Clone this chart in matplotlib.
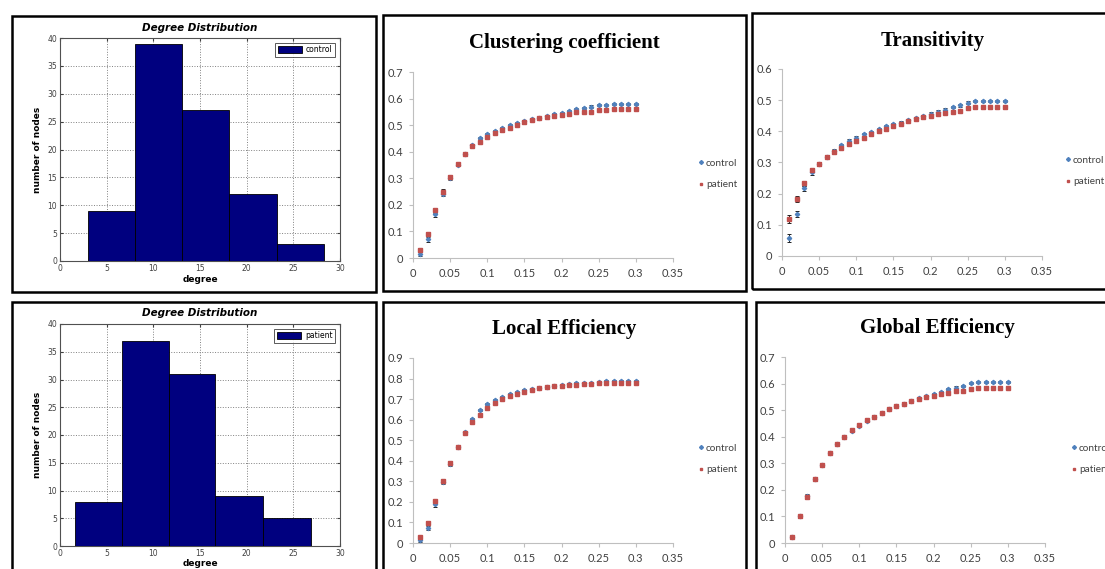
import matplotlib
matplotlib.use("Agg")
import matplotlib.pyplot as plt
import numpy as np
from matplotlib.lines import Line2D
from matplotlib.patches import Rectangle

W, H = 1105, 569

# ---- degree distribution histograms ----
ctrl_edges = [3.0, 8.05, 13.1, 18.1, 23.2, 28.25]
ctrl_counts = [9, 39, 27, 12, 3]
pat_edges = [1.6, 6.65, 11.65, 16.65, 21.7, 26.85]
pat_counts = [8, 37, 31, 9, 5]

# ---- network metrics vs. density threshold ----
threshold = [0.01, 0.02, 0.03, 0.04, 0.05, 0.06, 0.07, 0.08, 0.09, 0.10,
             0.11, 0.12, 0.13, 0.14, 0.15, 0.16, 0.17, 0.18, 0.19, 0.20,
             0.21, 0.22, 0.23, 0.24, 0.25, 0.26, 0.27, 0.28, 0.29, 0.30]

clust_ctrl = [0.015, 0.07, 0.165, 0.24, 0.30, 0.35, 0.39, 0.425, 0.45, 0.465,
              0.477, 0.49, 0.50, 0.508, 0.515, 0.522, 0.528, 0.535, 0.542, 0.547,
              0.553, 0.56, 0.565, 0.57, 0.575, 0.577, 0.578, 0.578, 0.578, 0.578]
clust_pat = [0.03, 0.09, 0.18, 0.25, 0.305, 0.352, 0.39, 0.42, 0.435, 0.455,
             0.47, 0.48, 0.49, 0.502, 0.51, 0.518, 0.526, 0.532, 0.536, 0.538,
             0.542, 0.548, 0.55, 0.55, 0.558, 0.558, 0.56, 0.56, 0.56, 0.56]
clust_err = [0.006, 0.008, 0.01, 0.008, 0.006, 0.005, 0.004, 0.004, 0.004, 0.004,
             0.004, 0.004, 0.004, 0.004, 0.004, 0.004, 0.004, 0.004, 0.004, 0.004,
             0.004, 0.004, 0.004, 0.004, 0.004, 0.004, 0.004, 0.004, 0.004, 0.004]

trans_ctrl = [0.057, 0.135, 0.218, 0.268, 0.295, 0.318, 0.338, 0.355, 0.37, 0.38,
              0.39, 0.398, 0.407, 0.416, 0.422, 0.428, 0.435, 0.442, 0.448, 0.457,
              0.463, 0.47, 0.478, 0.483, 0.492, 0.497, 0.497, 0.497, 0.497, 0.497]
trans_pat = [0.12, 0.182, 0.233, 0.276, 0.295, 0.318, 0.333, 0.347, 0.358, 0.37,
             0.38, 0.39, 0.40, 0.408, 0.418, 0.425, 0.433, 0.44, 0.447, 0.45,
             0.455, 0.46, 0.463, 0.465, 0.475, 0.477, 0.477, 0.477, 0.477, 0.477]
trans_err = [0.013, 0.01, 0.008, 0.007, 0.006, 0.005, 0.005, 0.004, 0.004, 0.004,
             0.004, 0.004, 0.004, 0.004, 0.004, 0.004, 0.004, 0.004, 0.004, 0.004,
             0.004, 0.004, 0.004, 0.004, 0.004, 0.004, 0.004, 0.004, 0.004, 0.004]

leff_ctrl = [0.015, 0.075, 0.188, 0.295, 0.385, 0.468, 0.54, 0.603, 0.645, 0.675,
             0.695, 0.712, 0.725, 0.735, 0.743, 0.749, 0.755, 0.76, 0.765, 0.77,
             0.773, 0.776, 0.778, 0.78, 0.783, 0.786, 0.786, 0.786, 0.786, 0.786]
leff_pat = [0.028, 0.098, 0.203, 0.302, 0.39, 0.468, 0.535, 0.588, 0.622, 0.658,
            0.683, 0.702, 0.715, 0.727, 0.737, 0.745, 0.752, 0.757, 0.762, 0.765,
            0.767, 0.77, 0.772, 0.773, 0.777, 0.778, 0.778, 0.778, 0.778, 0.778]
leff_err = [0.008, 0.01, 0.012, 0.01, 0.008, 0.006, 0.006, 0.005, 0.005, 0.005,
            0.005, 0.005, 0.005, 0.005, 0.005, 0.005, 0.005, 0.005, 0.005, 0.005,
            0.005, 0.005, 0.005, 0.005, 0.005, 0.005, 0.005, 0.005, 0.005, 0.005]

geff_ctrl = [0.022, 0.10, 0.178, 0.24, 0.293, 0.338, 0.372, 0.398, 0.42, 0.44,
             0.46, 0.475, 0.49, 0.503, 0.515, 0.525, 0.535, 0.545, 0.553, 0.56,
             0.568, 0.578, 0.585, 0.59, 0.602, 0.605, 0.605, 0.605, 0.605, 0.605]
geff_pat = [0.022, 0.10, 0.172, 0.242, 0.293, 0.34, 0.373, 0.40, 0.425, 0.445,
            0.462, 0.476, 0.49, 0.503, 0.515, 0.525, 0.535, 0.543, 0.55, 0.555,
            0.56, 0.566, 0.572, 0.573, 0.58, 0.585, 0.585, 0.585, 0.585, 0.585]
geff_err = [0.004, 0.005, 0.006, 0.005, 0.005, 0.004, 0.004, 0.004, 0.004, 0.004,
            0.004, 0.004, 0.004, 0.004, 0.004, 0.004, 0.004, 0.004, 0.004, 0.004,
            0.004, 0.004, 0.004, 0.004, 0.004, 0.004, 0.004, 0.004, 0.004, 0.004]

BLUE = "#4F81BD"
RED = "#C0504D"
NAVY = "#00007F"
TICK_GREY = "#404040"


def px_axes(fig, left, top, right, bottom):
    """Add axes placed by pixel box (origin top-left)."""
    return fig.add_axes([left / W, 1 - bottom / H, (right - left) / W, (bottom - top) / H])


def frame(fig, left, top, right, bottom):
    """Black border round one panel, like the pasted screenshot tiles."""
    fig.patches.append(Rectangle((left / W, 1 - bottom / H), (right - left) / W,
                                 (bottom - top) / H, transform=fig.transFigure,
                                 fill=False, edgecolor="black", linewidth=1.8))


def degree_hist(fig, box, edges, counts, label, title_y, xlabel_y):
    ax = px_axes(fig, *box)
    ax.bar(edges[:-1], counts, width=np.diff(edges), align="edge",
           color=NAVY, edgecolor="black", linewidth=0.6, label=label, zorder=3)
    ax.set_xlim(0, 30)
    ax.set_ylim(0, 40)
    ax.set_xticks(range(0, 31, 5))
    ax.set_yticks(range(0, 41, 5))
    ax.grid(True, linestyle=":", color="#808080", linewidth=0.7, zorder=0)
    ax.tick_params(direction="in", labelsize=5.5, colors=TICK_GREY, length=2,
                   top=True, right=True, pad=2)
    for s in ax.spines.values():
        s.set_color("#505050")
        s.set_linewidth(0.8)
    ax.set_ylabel("number of nodes", fontsize=6.5, fontweight="bold", labelpad=4)
    fig.text((box[0] + box[2]) / 2 / W, 1 - title_y / H, "Degree Distribution",
             ha="center", va="center", fontsize=7.5, fontweight="bold", style="italic")
    fig.text((box[0] + box[2]) / 2 / W, 1 - xlabel_y / H, "degree",
             ha="center", va="center", fontsize=6.5, fontweight="bold")
    leg = ax.legend(loc="upper right", fontsize=5.5, handlelength=3.2, handleheight=1.1,
                    fancybox=False, borderpad=0.35, handletextpad=0.5,
                    borderaxespad=0.6, edgecolor="#303030")
    leg.get_frame().set_linewidth(0.7)


def metric_panel(fig, box, title, title_xy, ctrl, pat, err, ymax, leg_xy):
    ax = px_axes(fig, *box)
    ax.errorbar(threshold, ctrl, yerr=err, fmt="D", ms=2.2, color=BLUE, mec=BLUE,
                ecolor="#202020", elinewidth=0.7, capsize=1.6, capthick=0.7, zorder=3)
    ax.errorbar(threshold, pat, yerr=err, fmt="s", ms=2.2, color=RED, mec=RED,
                ecolor="#202020", elinewidth=0.7, capsize=1.6, capthick=0.7, zorder=3)
    ax.set_xlim(0, 0.35)
    ax.set_ylim(0, ymax)
    ax.set_xticks([0, 0.05, 0.1, 0.15, 0.2, 0.25, 0.3, 0.35])
    ax.set_xticklabels(["0", "0.05", "0.1", "0.15", "0.2", "0.25", "0.3", "0.35"])
    yt = np.round(np.arange(0, ymax + 0.001, 0.1), 1)
    ax.set_yticks(yt)
    ax.set_yticklabels(["0"] + [f"{v:.1f}" for v in yt[1:]])
    for side in ("top", "right"):
        ax.spines[side].set_visible(False)
    for side in ("left", "bottom"):
        ax.spines[side].set_color("#BFBFBF")
        ax.spines[side].set_linewidth(0.8)
    ax.tick_params(direction="out", length=3, color="#BFBFBF", labelsize=8,
                   labelcolor=TICK_GREY, pad=4)
    for lab in ax.get_xticklabels() + ax.get_yticklabels():
        lab.set_family("Lato")
    fig.text(title_xy[0] / W, 1 - title_xy[1] / H, title, ha="center", va="center",
             fontsize=15, fontweight="bold", family="Liberation Serif")
    handles = [Line2D([], [], ls="", marker="D", ms=2.0, color=BLUE),
               Line2D([], [], ls="", marker="s", ms=2.0, color=RED)]
    ax.legend(handles, ["control", "patient"], loc="center left",
              bbox_to_anchor=(leg_xy[0] / W, 1 - leg_xy[1] / H),
              bbox_transform=fig.transFigure, frameon=False, handlelength=0.3,
              handletextpad=0.4, labelspacing=1.25, borderaxespad=0, borderpad=0,
              prop={"family": "Lato", "size": 7.2}, labelcolor=TICK_GREY)
    return ax


fig = plt.figure(figsize=(W / 100, H / 100), dpi=100)
fig.patch.set_facecolor("white")

# panel borders
frame(fig, 12, 16, 376, 292)
frame(fig, 12, 302, 376, 580)
frame(fig, 383, 15, 746, 291)
frame(fig, 752, 13, 1115, 289)
frame(fig, 383, 302, 746, 580)
frame(fig, 756, 302, 1115, 580)

degree_hist(fig, (60, 38, 340, 261), ctrl_edges, ctrl_counts, "control", 28, 280)
degree_hist(fig, (60, 324, 340, 546), pat_edges, pat_counts, "patient", 313, 563)

metric_panel(fig, (413, 72, 673, 258), "Clustering coefficient", (564, 43),
             clust_ctrl, clust_pat, clust_err, 0.7, (699, 174))
metric_panel(fig, (782, 69, 1042, 256), "Transitivity", (933, 41),
             trans_ctrl, trans_pat, trans_err, 0.6, (1066, 171))
metric_panel(fig, (413, 358, 673, 543), "Local Efficiency", (564, 329),
             leff_ctrl, leff_pat, leff_err, 0.9, (699, 459))
metric_panel(fig, (785, 357, 1045, 543), "Global Efficiency", (937, 328),
             geff_ctrl, geff_pat, geff_err, 0.7, (1072, 459))

fig.savefig("out.png", dpi=100)
